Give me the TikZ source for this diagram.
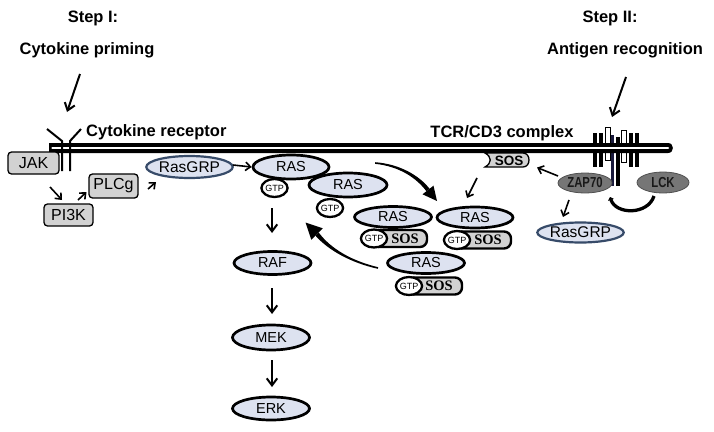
\documentclass[tikz,border=0pt]{standalone}
\usepackage{fontspec}
\setmainfont{Liberation Sans}
\newfontfamily\timesfam{Liberation Serif}
\usetikzlibrary{shapes.geometric,arrows.meta}
\newcommand\myfs[1]{\fontsize{#1}{#1}\selectfont}
\definecolor{lav}{RGB}{221,226,240}
\definecolor{boxgray}{RGB}{210,210,210}
\definecolor{grpblue}{RGB}{55,75,105}
\definecolor{kingray}{RGB}{118,118,118}
\definecolor{kinborder}{RGB}{80,80,80}
\definecolor{navybar}{RGB}{25,25,60}
\begin{document}
\begin{tikzpicture}[x=1pt,y=-1pt,
 lab/.style={font=\myfs{16.5}\bfseries, inner sep=0},
 box/.style={draw=black, line width=1.3, fill=boxgray, rounded corners=3.5, inner sep=0, font=\myfs{16}},
 prot/.style={ellipse, draw=black, line width=2.7, fill=lav, inner sep=0, minimum width=77, minimum height=23, font=\myfs{14.5}},
 grp/.style={prot, draw=grpblue, line width=2.2, minimum width=75, minimum height=22, font=\myfs{15.5}},
 gtp/.style={ellipse, draw=black, line width=2.3, fill=white, inner sep=0, minimum width=24, minimum height=18, font=\myfs{9}},
 sosbox/.style={draw=black, line width=2.4, fill=boxgray, rounded corners=7},
 sostext/.style={font=\timesfam\bfseries\myfs{14.5}, inner sep=0},
 kin/.style={ellipse, draw=kinborder, line width=0.8, fill=kingray, inner sep=0, font=\myfs{14.5}\bfseries, text=black!90},
 arr/.style={-{Straight Barb[length=5pt,width=8.5pt]}, line width=1.6},
 arrbig/.style={-{Straight Barb[length=7pt,width=10.5pt]}, line width=2},
]
\useasboundingbox (0,0) rectangle (714,431);

% titles
\node[lab, anchor=base] (s1) at (93,22) {Step I:};
\node[lab, anchor=base] (s1b) at (87,54) {Cytokine priming};
\node[lab, anchor=base] (s2) at (610,22) {Step II:};
\node[lab, anchor=base] (s2b) at (625,54) {Antigen recognition};
\node[lab, anchor=base west] (crec) at (86,136) {Cytokine receptor};
\node[lab, anchor=base] (tcr) at (502,137) {TCR/CD3 complex};

% TCR/CD3 bars
\fill[black] (593,133) rectangle (597,167);
\fill[black] (598.5,133) rectangle (602.5,167);
\fill[black] (629,133) rectangle (633,167);
\fill[black] (634.5,133) rectangle (638.5,167);
\draw[fill=white, line width=0.8] (605,127) rectangle (610,160);
\draw[fill=white, line width=0.8] (621,130) rectangle (626,162);
\fill[navybar] (611,135) rectangle (614,186);
\fill[black] (616,137) rectangle (619.5,186);

% membrane
\fill[black] (49,143) -- (668,143) .. controls (674.5,143) and (674.5,153) .. (668,153) -- (49,153) -- cycle;
\draw[white, line width=2.6, line cap=round] (52.5,148) -- (668,148);

% cytokine receptor
\draw[line width=2] (47,129) -- (62,141) -- (62,171);
\draw[line width=2] (81,129) -- (70,141) -- (70,171);

% step arrows
\coordinate (a1s) at (80,74);
\coordinate (a1e) at (67,112);
\draw[arrbig] (a1s) -- (a1e);
\coordinate (a2s) at (626,77);
\coordinate (a2e) at (612,117);
\draw[arrbig] (a2s) -- (a2e);

% left boxes
\node[box, minimum width=51, minimum height=22] (jak) at (33.5,163) {JAK};
\node[box, minimum width=49, minimum height=22] (pi3k) at (68.5,215) {PI3K};
\node[box, minimum width=49, minimum height=24] (plcg) at (113.5,186) {PLCg};
\node[grp] (rasgrp1) at (189.5,167) {RasGRP};

\coordinate (j1) at (50,187); \coordinate (j2) at (62,200);
\draw[arr] (j1) -- (j2);
\coordinate (p1) at (78,200); \coordinate (p2) at (86.5,192);
\draw[arr] (p1) -- (p2);
\coordinate (q1) at (148,189); \coordinate (q2) at (156,182);
\draw[arr] (q1) -- (q2);

% RAS cascade
\node[prot, minimum width=76, minimum height=24] (ras1) at (291,167) {RAS};
\node[prot, minimum width=78, minimum height=24] (ras2) at (348,185) {RAS};
\node[gtp] (gtp1) at (274.5,188) {GTP};
\node[gtp] (gtp2) at (330,208) {GTP};
\coordinate (r1) at (233,165);
\draw[arr] (r1) -- (ras1.west);
\node[prot] (raf) at (272.5,263) {RAF};
\node[prot, minimum height=25] (mek) at (271,337.5) {MEK};
\node[prot] (erk) at (271,408.5) {ERK};
\coordinate (g1) at (272,208);
\coordinate (g2) at (272,233);
\draw[arrbig] (g1) -- (g2);
\coordinate (f1) at (272,288);
\coordinate (f2) at (272,314);
\draw[arrbig] (f1) -- (f2);
\coordinate (m1) at (272,360);
\coordinate (m2) at (272,387);
\draw[arrbig] (m1) -- (m2);

% RAS-GTP-SOS complexes
\node[prot, minimum width=77, minimum height=21] (ras3) at (393,217) {RAS};
\draw[sosbox] (372,230) rectangle (427,247);
\node[gtp] (gtp3) at (374,238.5) {GTP};
\node[sostext] (sos3) at (405,238.5) {SOS};

\node[prot, minimum width=76, minimum height=21] (ras4) at (475,217.5) {RAS};
\draw[sosbox] (455,231.5) rectangle (511,248.5);
\node[gtp] (gtp4) at (457,240) {GTP};
\node[sostext] (sos4) at (488,240) {SOS};

\node[prot, minimum width=77, minimum height=21] (ras5) at (426,263) {RAS};
\draw[sosbox] (407,277.5) rectangle (462,294.5);
\node[gtp] (gtp5) at (409,286) {GTP};
\node[sostext] (sos5) at (439,286) {SOS};

% big curved arrows
\fill[black] (375,162.2) .. controls (400,164) and (419.5,175.8) .. (429.6,188.8) -- (426.4,191.2) .. controls (416.5,178.2) and (400,166.5) .. (375,163.8) -- cycle;
\fill[black] (422.5,194.3) -- (437,201) -- (433.5,185.7) -- cycle;
\fill[black] (378.2,267.2) .. controls (352,261) and (331,249) .. (318.6,232.4) -- (315.4,235.6) .. controls (329,251) and (352,263) .. (377.8,268.8) -- cycle;
\fill[black] (322.7,228.3) -- (305.5,222.5) -- (311.3,239.7) -- cycle;

% membrane SOS
\draw[fill=boxgray, line width=1.3] (485,153) -- (523,153) .. controls (531,153) and (531,167) .. (523,167) -- (485,167) .. controls (492,163) and (492,157) .. (485,153) -- cycle;
\node[font=\myfs{13.5}\bfseries, inner sep=0] (sosm) at (509,160.5) {SOS};

% ZAP70, LCK, RasGRP
\node[kin, minimum width=54, minimum height=20] (zap) at (585,183) {\scalebox{0.78}[1]{ZAP70}};
\node[kin, minimum width=52, minimum height=21] (lck) at (663,182.5) {\scalebox{0.78}[1]{LCK}};
\node[grp, minimum height=20] (rasgrp2) at (580.5,232.5) {RasGRP};

\coordinate (z1) at (558,176); \coordinate (z2) at (537,167.5);
\draw[arr] (z1) -- (z2);
\coordinate (z3) at (569,200); \coordinate (z4) at (563,217);
\draw[arr] (z3) -- (z4);
\coordinate (s1a) at (477,178); \coordinate (s1e) at (467,198);
\draw[arr] (s1a) -- (s1e);

% LCK -> ZAP70 arc
\coordinate (lk1) at (654,196);
\coordinate (lk2) at (610,197);
\draw[line width=3.3, -{Triangle[length=3pt,width=6pt]}] (lk1) .. controls (648,215) and (616,215) .. (lk2);

\end{tikzpicture}
\end{document}
